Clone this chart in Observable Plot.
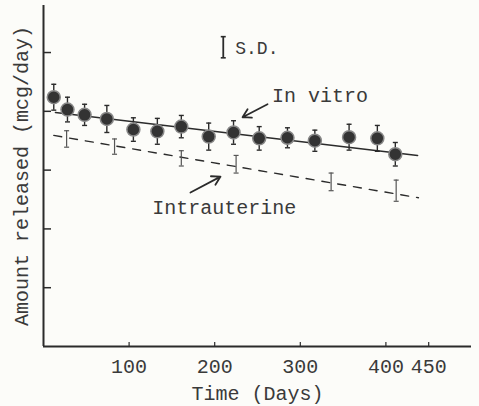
<!DOCTYPE html>
<html>
<head>
<meta charset="utf-8">
<script src="https://cdn.jsdelivr.net/npm/d3@7"></script>
<script src="https://cdn.jsdelivr.net/npm/@observablehq/plot@0.6"></script>
<style>
  html, body { margin: 0; padding: 0; background: #fcfcf9; }
  #chart svg { display: block; background: #fcfcf9; }
</style>
</head>
<body>
<div id="chart"></div>
<script>
// In vitro release (mean ± SD)
const vitroDays = [12, 28, 48, 74, 105, 133, 161, 193, 222, 252, 285, 317, 357, 390, 411];
const vitroMean = [4.24, 4.03, 3.94, 3.87, 3.69, 3.66, 3.74, 3.57, 3.64, 3.54, 3.55, 3.50, 3.56, 3.54, 3.27];
const vitroSD   = [0.22, 0.21, 0.18, 0.23, 0.20, 0.22, 0.19, 0.23, 0.20, 0.20, 0.17, 0.18, 0.22, 0.22, 0.20];

// Intrauterine release (mean ± SD)
const uterineDays = [27, 83, 161, 225, 336, 412];
const uterineMean = [3.53, 3.40, 3.20, 3.10, 2.80, 2.65];
const uterineSD   = [0.14, 0.13, 0.13, 0.15, 0.15, 0.18];

// Fitted lines (end points)
const vitroFitDays = [14, 437];
const vitroFit = [3.98, 3.25];
const uterineFitDays = [12, 438];
const uterineFit = [3.59, 2.53];

// Axis ticks
const xTicks = [100, 200, 300, 400, 450];
const yTicks = [1, 2, 3, 4, 5];

const vitro = vitroDays.map((d, i) => ({day: d, mean: vitroMean[i], lo: vitroMean[i] - vitroSD[i], hi: vitroMean[i] + vitroSD[i]}));
const uterine = uterineDays.map((d, i) => ({day: d, mean: uterineMean[i], lo: uterineMean[i] - uterineSD[i], hi: uterineMean[i] + uterineSD[i]}));
const vitroLine = vitroFitDays.map((d, i) => ({day: d, v: vitroFit[i]}));
const uterineLine = uterineFitDays.map((d, i) => ({day: d, v: uterineFit[i]}));

const hline = {draw(ctx, size) { const r = Math.sqrt(size / Math.PI); ctx.moveTo(-r, 0); ctx.lineTo(r, 0); }};

const ink = "#2b2b2b";
const txt = "#3a3a3a";
const font = "Liberation Mono, DejaVu Sans Mono, monospace";

const W = 479, H = 406, mL = 43, mR = 8, mT = 5, mB = 60;
const fw = W - mL - mR, fh = H - mT - mB;

const chart = Plot.plot({
  width: W, height: H,
  marginLeft: mL, marginRight: mR, marginTop: mT, marginBottom: mB,
  style: {fontFamily: font, background: "#fcfcf9", color: txt},
  x: {domain: [0, 500]},
  y: {domain: [0, 5.8]},
  marks: [
    // axes lines
    Plot.ruleX([0], {stroke: ink, strokeWidth: 2}),
    Plot.ruleY([0], {stroke: ink, strokeWidth: 2}),
    // inward ticks
    Plot.tickY(yTicks, {y: d => d, insetRight: fw - 8, stroke: ink, strokeWidth: 1.5}),
    Plot.tickX(xTicks, {x: d => d, insetTop: fh - 4, stroke: ink, strokeWidth: 1.2}),
    Plot.axisX(xTicks, {tickSize: 0, tickPadding: 12, fontSize: 20, fill: txt, label: null}),
    Plot.axisY([], {label: null, tickSize: 0}),
    // axis titles
    Plot.text(["Time (Days)"], {frameAnchor: "bottom", dy: 47, fontSize: 20, fill: txt, lineAnchor: "middle", textAnchor: "middle"}),
    Plot.text(["Amount released (mcg/day)"], {frameAnchor: "left", dx: -22, rotate: -90, fontSize: 20, fill: txt, lineAnchor: "middle", textAnchor: "middle"}),
    // fitted lines
    Plot.line(vitroLine, {x: "day", y: "v", stroke: ink, strokeWidth: 1.6}),
    Plot.line(uterineLine, {x: "day", y: "v", stroke: ink, strokeWidth: 1.4, strokeDasharray: "8,8"}),
    // intrauterine SD bars
    Plot.ruleX(uterine, {x: "day", y1: "lo", y2: "hi", stroke: "#555", strokeWidth: 1.2}),
    Plot.dot(uterine, {x: "day", y: "lo", symbol: hline, r: 2.5, stroke: "#555", strokeWidth: 1.2}),
    Plot.dot(uterine, {x: "day", y: "hi", symbol: hline, r: 2.5, stroke: "#555", strokeWidth: 1.2}),
    // in vitro SD bars
    Plot.ruleX(vitro, {x: "day", y1: "lo", y2: "hi", stroke: ink, strokeWidth: 1.4}),
    Plot.dot(vitro, {x: "day", y: "lo", symbol: hline, r: 2.5, stroke: ink, strokeWidth: 1.4}),
    Plot.dot(vitro, {x: "day", y: "hi", symbol: hline, r: 2.5, stroke: ink, strokeWidth: 1.4}),
    Plot.dot(vitro, {x: "day", y: "mean", r: 6.5, fill: "#333", stroke: "#888", strokeWidth: 1.5}),
    // SD legend
    Plot.ruleX([210], {y1: 4.91, y2: 5.27, stroke: ink, strokeWidth: 1.8}),
    Plot.dot([4.91, 5.27], {x: 210, y: d => d, symbol: hline, r: 2.5, stroke: ink, strokeWidth: 1.6}),
    Plot.text(["S.D."], {x: 224, y: 5.08, textAnchor: "start", fontSize: 18, fill: txt}),
    // annotations
    Plot.text(["In vitro"], {x: 267, y: 4.27, textAnchor: "start", fontSize: 20, fill: txt}),
    Plot.arrow([0], {x1: 261.7, y1: 4.12, x2: 232.5, y2: 3.90, stroke: ink, strokeWidth: 1.8, headLength: 8}),
    Plot.text(["Intrauterine"], {x: 127, y: 2.36, textAnchor: "start", fontSize: 20, fill: txt}),
    Plot.arrow([0], {x1: 171.7, y1: 2.62, x2: 206.8, y2: 2.89, stroke: ink, strokeWidth: 1.8, headLength: 8})
  ]
});
document.getElementById("chart").appendChild(chart);
</script>
</body>
</html>
